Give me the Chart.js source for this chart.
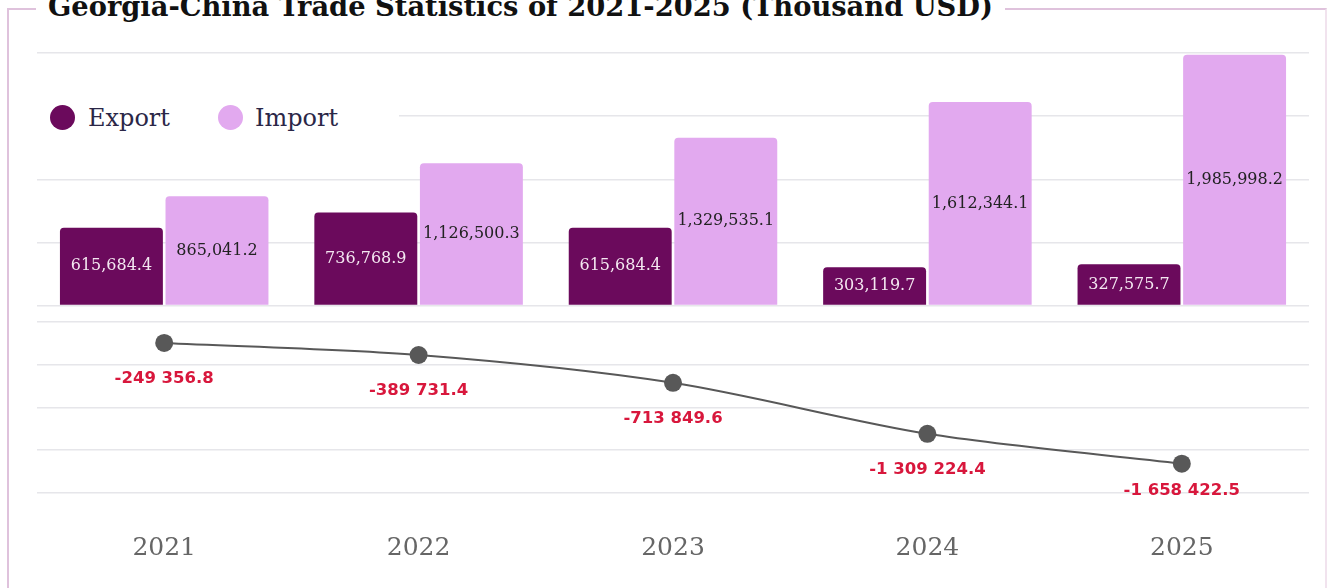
<!DOCTYPE html>
<html>
<head>
<meta charset="utf-8">
<script src="https://cdn.jsdelivr.net/npm/chart.js@4/dist/chart.umd.min.js"></script>
<style>
  html, body { margin: 0; padding: 0; background: #fff; }
  body { width: 1328px; height: 588px; position: relative; overflow: hidden; }
  .frame { position: absolute; left: 7px; top: 8px; width: 1316px; height: 700px;
           border: 2px solid #dfc2dc; border-right-color: #f1e3ee; }
  .title { position: absolute; left: 36px; top: -7px; padding: 0 12px; background: #fff;
           font: bold 27.3px "DejaVu Serif", serif; line-height: 1; color: #111; white-space: nowrap; }
  #chart { position: absolute; left: 0; top: 0; }
  .legend { position: absolute; left: 37px; top: 102px; width: 362px; height: 32px; background: #fff;
            font: 24px "DejaVu Serif", serif; color: #2b2747; }
  .legend span.item { position: absolute; top: 0; line-height: 32px; }
  .legend i { position: absolute; top: 3px; width: 25px; height: 25px; border-radius: 50%; }
</style>
</head>
<body>
<div class="frame"></div>
<div class="title">Georgia-China Trade Statistics of 2021-2025 (Thousand USD)</div>
<canvas id="chart" width="1328" height="588"></canvas>
<div class="legend">
  <i style="left:13px;background:#6b0a5c"></i><span class="item" style="left:51px">Export</span>
  <i style="left:181px;background:#e2a9ef"></i><span class="item" style="left:218px">Import</span>
</div>
<script>
const years = ['2021', '2022', '2023', '2024', '2025'];
const exportValues = [615684.4, 736768.9, 615684.4, 303119.7, 327575.7];
const importValues = [865041.2, 1126500.3, 1329535.1, 1612344.1, 1985998.2];
const balanceValues = [-249356.8, -389731.4, -713849.6, -1309224.4, -1658422.5];
const balanceGrid = [-2000000, -1500000, -1000000, -500000, 0];

const exportColor = '#6b0a5c';
const importColor = '#e2a9ef';
const gridColor = '#e6e6ea';

function commaFmt(v) {
  return v.toLocaleString('en-US', { minimumFractionDigits: 1, maximumFractionDigits: 1 });
}
function spaceFmt(v) {
  const s = Math.abs(v).toFixed(1).split('.');
  const int = s[0].replace(/\B(?=(\d{3})+(?!\d))/g, ' ');
  return (v < 0 ? '-' : '') + int + '.' + s[1];
}

// value labels: centred inside the bars, under the balance points
const valueLabels = {
  id: 'valueLabels',
  afterDatasetsDraw(chart) {
    const ctx = chart.ctx;
    const bottom = chart.chartArea.bottom;
    ctx.save();
    ctx.textAlign = 'center';
    ctx.textBaseline = 'middle';
    chart.data.datasets.forEach((ds, i) => {
      const meta = chart.getDatasetMeta(i);
      meta.data.forEach((el, j) => {
        const v = ds.data[j];
        if (ds.type === 'line') {
          ctx.font = 'bold 16.5px "DejaVu Sans", sans-serif';
          ctx.fillStyle = '#d8173c';
          // keep the lowest label from dropping past the last grid line
          ctx.fillText(spaceFmt(v), el.x, Math.min(el.y + 36, bottom - 2));
        } else {
          ctx.font = '16px "DejaVu Serif", serif';
          ctx.fillStyle = ds.labelColor;
          ctx.fillText(commaFmt(v), el.x, (el.y + el.base) / 2);
        }
      });
    });
    ctx.restore();
  }
};

new Chart(document.getElementById('chart'), {
  type: 'bar',
  data: {
    labels: years,
    datasets: [
      {
        label: 'Export', data: exportValues, yAxisID: 'yBar',
        backgroundColor: exportColor, labelColor: '#f4e8f1',
        borderRadius: { topLeft: 4, topRight: 4 }, borderSkipped: false,
        categoryPercentage: 0.83, barPercentage: 0.975
      },
      {
        label: 'Import', data: importValues, yAxisID: 'yBar',
        backgroundColor: importColor, labelColor: '#222',
        borderRadius: { topLeft: 4, topRight: 4 }, borderSkipped: false,
        categoryPercentage: 0.83, barPercentage: 0.975
      },
      {
        type: 'line', label: 'Balance', data: balanceValues, yAxisID: 'yLine',
        borderColor: '#585858', borderWidth: 2, tension: 0.3,
        pointRadius: 9, pointBackgroundColor: '#585858', pointBorderWidth: 0
      }
    ]
  },
  options: {
    responsive: false,
    animation: false,
    layout: { padding: { left: 37, right: 19, top: 53, bottom: -15 } },
    plugins: { legend: { display: false }, tooltip: { enabled: false } },
    scales: {
      x: {
        grid: { display: false, drawTicks: false },
        border: { display: false },
        ticks: { color: '#666', padding: 40, font: { family: 'DejaVu Serif', size: 25 } }
      },
      yBar: {
        type: 'linear', position: 'left', stack: 'rows', stackWeight: 252, weight: 2,
        min: 0, max: 2000000,
        ticks: { display: false, stepSize: 500000 },
        grid: { color: gridColor, lineWidth: 1.5, drawTicks: false },
        border: { display: false }
      },
      yLine: {
        type: 'linear', position: 'left', stack: 'rows', stackWeight: 187, weight: 1,
        min: -2000000, max: 187000,
        afterBuildTicks: axis => { axis.ticks = balanceGrid.map(v => ({ value: v })); },
        ticks: { display: false },
        grid: { color: gridColor, lineWidth: 1.5, drawTicks: false },
        border: { display: false }
      }
    }
  },
  plugins: [valueLabels]
});
</script>
</body>
</html>
